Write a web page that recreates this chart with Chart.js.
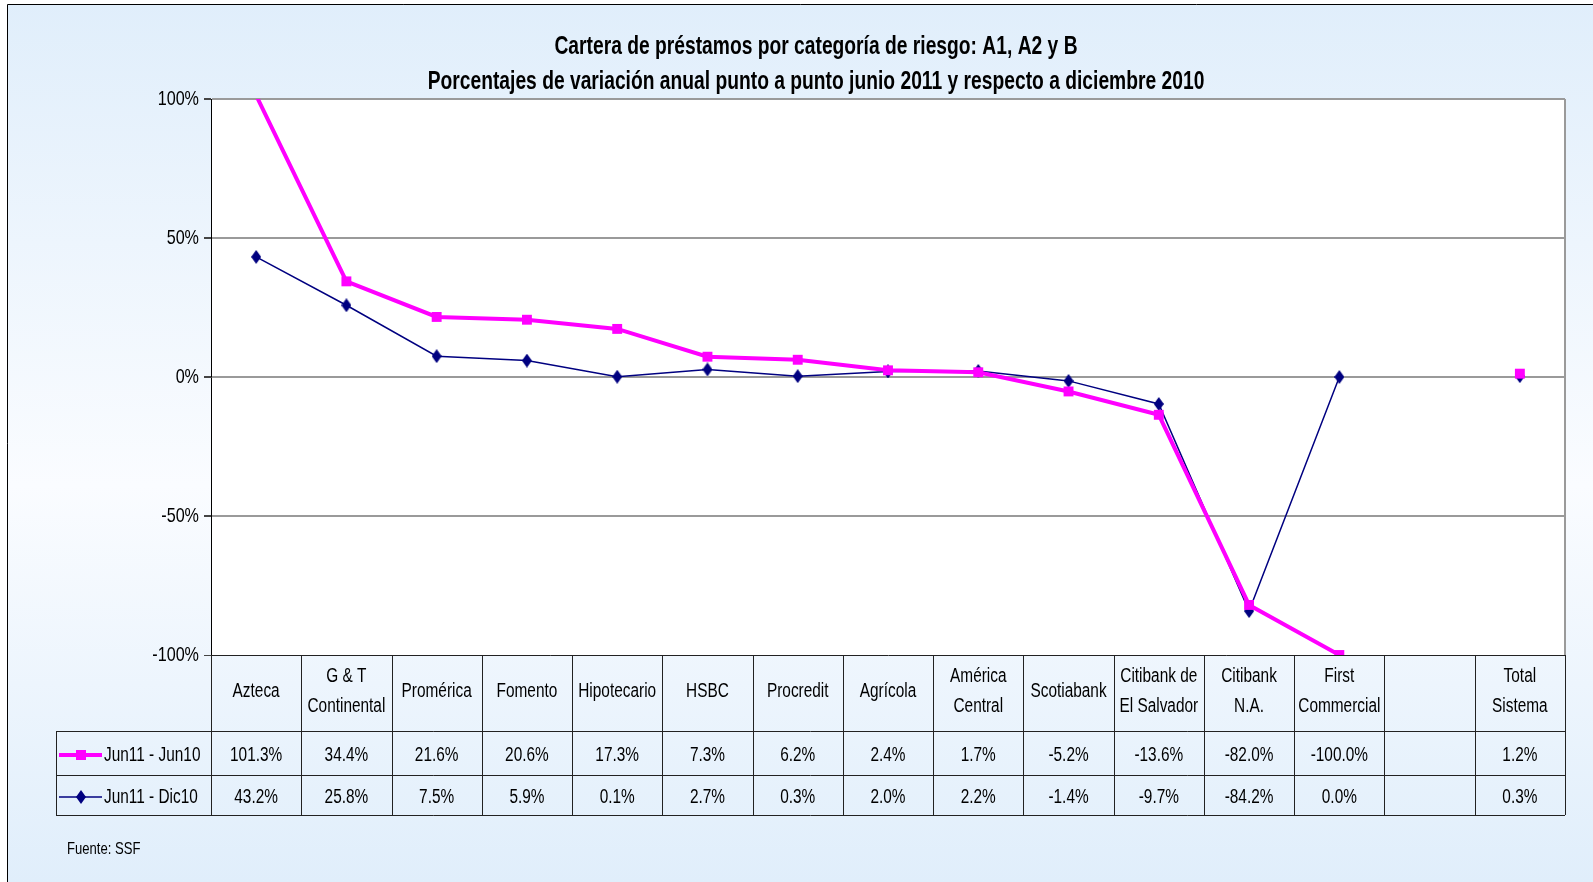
<!DOCTYPE html>
<html lang="es">
<head>
<meta charset="UTF-8">
<title>Cartera de préstamos por categoría de riesgo</title>
<script src="https://cdn.jsdelivr.net/npm/chart.js@4.4.0/dist/chart.umd.min.js"></script>
<style>
    body { margin: 0; background: #fff; }
    #wrap { position: relative; width: 1593px; height: 882px; }
</style>
</head>
<body>
<div id="wrap"><canvas id="chart"></canvas></div>
<script>
'use strict';

const categories = [
    ['Azteca'], ['G & T', 'Continental'], ['Promérica'], ['Fomento'], ['Hipotecario'],
    ['HSBC'], ['Procredit'], ['Agrícola'], ['América', 'Central'], ['Scotiabank'],
    ['Citibank de', 'El Salvador'], ['Citibank', 'N.A.'], ['First', 'Commercial'], [''],
    ['Total', 'Sistema']
];
const seriesNames = ['Jun11 - Jun10', 'Jun11 - Dic10'];
const jun11Jun10 = [101.3, 34.4, 21.6, 20.6, 17.3, 7.3, 6.2, 2.4, 1.7, -5.2, -13.6, -82.0, -100.0, null, 1.2];
const jun11Dic10 = [43.2, 25.8, 7.5, 5.9, 0.1, 2.7, 0.3, 2.0, 2.2, -1.4, -9.7, -84.2, 0.0, null, 0.3];
const yTicks = [-100, -50, 0, 50, 100];
const titleLines = [
    'Cartera de préstamos por categoría de riesgo: A1, A2 y B',
    'Porcentajes de variación anual punto a punto junio 2011 y respecto a diciembre 2010'
];
const sourceNote = 'Fuente: SSF';

// no hay Arial Narrow: se comprime Liberation Sans en horizontal
const FONT = '"Liberation Sans", Arial, sans-serif';
const NARROW = 0.77;
const MAGENTA = '#ff00ff';
const NAVY = '#000080';

function narrowText(ctx, text, x, y, align) {
    ctx.save();
    ctx.translate(x, y);
    ctx.scale(NARROW, 1);
    ctx.textAlign = align;
    ctx.fillText(text, 0, 0);
    ctx.restore();
}

// rombo alargado como el de Excel
function makeDiamond(w, h, color) {
    const c = document.createElement('canvas');
    c.width = w; c.height = h;
    const g = c.getContext('2d');
    g.fillStyle = color;
    g.beginPath();
    g.moveTo(w / 2, 0); g.lineTo(w, h / 2); g.lineTo(w / 2, h); g.lineTo(0, h / 2);
    g.closePath(); g.fill();
    return c;
}
const diamond = makeDiamond(10, 14, NAVY);

const fmt = v => (v === null ? '' : v.toFixed(1) + '%');

const framePlugin = {
    id: 'frame',
    beforeDraw(chart) {
        const { ctx, chartArea: a, width, height } = chart;
        ctx.save();
        ctx.fillStyle = '#fff';
        ctx.fillRect(0, 0, width, height);
        const g = ctx.createLinearGradient(0, 0, 0, height);
        g.addColorStop(0, '#e0eefb');
        g.addColorStop(0.55, '#fafcff');
        g.addColorStop(1, '#e0eefb');
        ctx.fillStyle = g;
        ctx.fillRect(8, 5, width - 8, height - 5);
        ctx.strokeStyle = '#000';
        ctx.lineWidth = 1;
        ctx.beginPath();
        ctx.moveTo(7.5, height); ctx.lineTo(7.5, 4.5); ctx.lineTo(width, 4.5);
        ctx.stroke();
        ctx.fillStyle = '#fff';
        ctx.fillRect(a.left, a.top, a.right - a.left, a.bottom - a.top);
        ctx.restore();
    },
    beforeDatasetsDraw(chart) {
        const { ctx, chartArea: a } = chart;
        const x = chart.scales.x;
        const y = chart.scales.y;
        const n = categories.length;
        const colW = (a.right - a.left) / n;
        const headBottom = 731, row1Bottom = 775, row2Bottom = 815, legendLeft = 56;
        ctx.save();

        // borde derecho del área de trazado
        ctx.strokeStyle = '#9a9a9a';
        ctx.lineWidth = 2;
        ctx.beginPath();
        ctx.moveTo(a.right, a.top); ctx.lineTo(a.right, a.bottom);
        ctx.stroke();

        // etiquetas del eje Y
        ctx.fillStyle = '#000';
        ctx.textBaseline = 'middle';
        ctx.font = '21px ' + FONT;
        yTicks.forEach(v => narrowText(ctx, v + '%', 199, y.getPixelForValue(v), 'right'));

        // rejilla de la tabla
        ctx.strokeStyle = '#222';
        ctx.lineWidth = 1;
        ctx.beginPath();
        for (let i = 0; i <= n; i++) {
            const px = Math.round(a.left + i * colW) + 0.5;
            ctx.moveTo(px, a.bottom); ctx.lineTo(px, row2Bottom);
        }
        [headBottom, row1Bottom, row2Bottom].forEach(yy => {
            ctx.moveTo(legendLeft, yy + 0.5); ctx.lineTo(a.right, yy + 0.5);
        });
        ctx.moveTo(legendLeft + 0.5, headBottom); ctx.lineTo(legendLeft + 0.5, row2Bottom);
        ctx.stroke();

        ctx.font = '20px ' + FONT;
        categories.forEach((lines, i) => {
            const cx = x.getPixelForValue(i);
            if (lines.length === 1) {
                narrowText(ctx, lines[0], cx, 691, 'center');
            } else {
                narrowText(ctx, lines[0], cx, 676, 'center');
                narrowText(ctx, lines[1], cx, 706, 'center');
            }
            narrowText(ctx, fmt(jun11Jun10[i]), cx, 755, 'center');
            narrowText(ctx, fmt(jun11Dic10[i]), cx, 797, 'center');
        });

        // leyenda dentro de la tabla
        const rowsY = [755, 797];
        rowsY.forEach((ry, k) => {
            ctx.strokeStyle = k === 0 ? MAGENTA : NAVY;
            ctx.lineWidth = k === 0 ? 4 : 1.5;
            ctx.beginPath();
            ctx.moveTo(59, ry); ctx.lineTo(102, ry);
            ctx.stroke();
            if (k === 0) {
                ctx.fillStyle = MAGENTA;
                ctx.fillRect(76, ry - 5, 10, 10);
            } else {
                ctx.drawImage(diamond, 76, ry - 7);
            }
            ctx.fillStyle = '#000';
            narrowText(ctx, seriesNames[k], 104, ry, 'left');
        });
        ctx.restore();
    },
    afterDraw(chart) {
        const { ctx } = chart;
        ctx.save();
        ctx.fillStyle = '#000';
        ctx.textBaseline = 'middle';
        ctx.font = 'bold 25px ' + FONT;
        narrowText(ctx, titleLines[0], 816, 47, 'center');
        narrowText(ctx, titleLines[1], 816, 82, 'center');
        ctx.font = '17px ' + FONT;
        narrowText(ctx, sourceNote, 67, 849, 'left');
        ctx.restore();
    }
};

new Chart(document.getElementById('chart'), {
    type: 'line',
    data: {
        labels: categories,
        datasets: [
            {
                label: seriesNames[0],
                data: jun11Jun10,
                borderColor: MAGENTA,
                backgroundColor: MAGENTA,
                borderWidth: 4,
                pointStyle: 'rect',
                pointRadius: ctx => (ctx.raw > 100 ? 0 : 7),
                pointBorderWidth: 0,
                tension: 0
            },
            {
                label: seriesNames[1],
                data: jun11Dic10,
                borderColor: NAVY,
                backgroundColor: NAVY,
                borderWidth: 1.5,
                pointStyle: diamond,
                pointRadius: 7,
                tension: 0
            }
        ]
    },
    options: {
        responsive: true,
        maintainAspectRatio: false,
        animation: false,
        layout: { padding: { left: 0, top: 99, right: 28, bottom: 227 } },
        plugins: {
            legend: { display: false },
            title: { display: false },
            tooltip: { enabled: false }
        },
        scales: {
            x: { display: false, offset: true },
            y: {
                min: -100,
                max: 100,
                afterFit: scale => { scale.width = 211; },
                afterBuildTicks: scale => { scale.ticks = yTicks.map(v => ({ value: v })); },
                ticks: { display: false },
                grid: {
                    color: c => (c.tick && c.tick.value === -100 ? '#222' : '#9a9a9a'),
                    lineWidth: c => (c.tick && c.tick.value === -100 ? 1 : 2),
                    tickLength: 7,
                    tickColor: '#444'
                },
                border: { display: true, color: '#000', width: 1 }
            }
        }
    },
    plugins: [framePlugin]
});
</script>
</body>
</html>
